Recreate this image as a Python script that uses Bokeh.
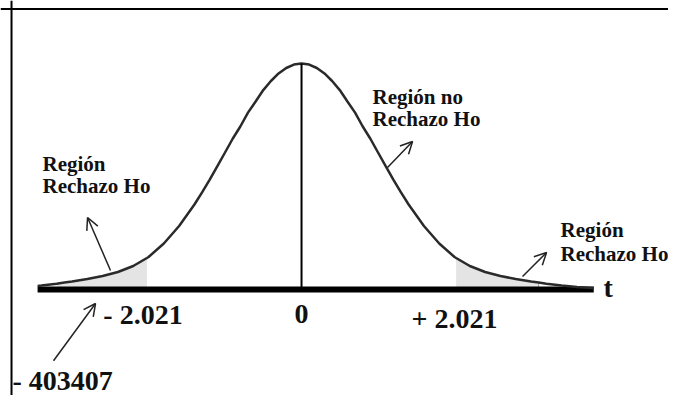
from bokeh.plotting import figure
from bokeh.models import Range1d, ColumnDataSource, Arrow, OpenHead, Span
from bokeh.core.properties import value
from bokeh.embed import file_html
from bokeh.resources import INLINE
import numpy as np

# ---- data (t value, curve height in density units) ----
t_vals = [-3.45, -3.4, -3.2, -3.1, -3.0, -2.8, -2.6, -2.4, -2.2, -2.021, -2.0, -1.8, -1.6, -1.4,
          -1.3, -1.2, -1.1, -1.0, -0.9, -0.8, -0.7, -0.6, -0.5, -0.4, -0.3, -0.2, -0.1, 0.0,
          0.1, 0.2, 0.3, 0.4, 0.5, 0.6, 0.7, 0.8, 0.9, 1.0, 1.1, 1.2, 1.3, 1.4, 1.6,
          1.8, 2.0, 2.021, 2.2, 2.4, 2.6, 2.8, 3.0, 3.1, 3.2, 3.4, 3.6, 3.8, 3.82]
density = [0.0063, 0.0070, 0.0102, 0.0121, 0.0140, 0.0184, 0.0237, 0.0307, 0.0412, 0.0553,
           0.0570, 0.0807, 0.1114, 0.1491, 0.1703, 0.1929, 0.2165, 0.2403, 0.2644, 0.2859,
           0.3103, 0.3298, 0.3498, 0.3657, 0.3789, 0.3885, 0.3945, 0.3964,
           0.3945, 0.3885, 0.3789, 0.3657, 0.3498, 0.3298, 0.3103, 0.2859, 0.2644, 0.2403,
           0.2165, 0.1929, 0.1703, 0.1491, 0.1114, 0.0807,
           0.0570, 0.0553, 0.0412, 0.0307, 0.0237, 0.0184, 0.0140, 0.0121, 0.0102, 0.0070,
           0.0046, 0.0028, 0.0026]
t_critical = 2.021
left_shade_start = -3.2
right_shade_end = 3.1
axis_start = -3.45
axis_end = 3.82

tick_labels = ["- 2.021", "0", "+ 2.021"]
tick_x = [-2.072, 0.0, 2.0]
tick_y = [-0.0439, -0.0421, -0.0509]

region_labels = ["Región", "Rechazo Ho", "Región no", "Rechazo Ho", "Región", "Rechazo Ho"]
region_x = [-3.386, -3.386, 0.928, 0.928, 3.386, 3.386]
region_y = [0.2210, 0.1807, 0.3385, 0.2999, 0.1035, 0.0631]

arrow_x0 = [-2.497, -3.242, 1.124, 2.889]
arrow_y0 = [0.0333, -0.1250, 0.2140, 0.0228]
arrow_x1 = [-2.797, -2.693, 1.451, 3.203]
arrow_y1 = [0.1263, -0.0246, 0.2596, 0.0649]

t = np.array(t_vals)
d = np.array(density)

p = figure(width=668, height=395, output_backend="svg", toolbar_location=None,
           x_range=Range1d(-3.935, 4.797), y_range=Range1d(-0.1859, 0.5069),
           x_axis_type=None, y_axis_type=None, min_border=0,
           background_fill_color="white", border_fill_color="white")
p.grid.visible = False
p.outline_line_color = None

# frame lines of the picture
p.add_layout(Span(location=-3.791, dimension="height", line_color="black", line_width=2))
p.add_layout(Span(location=0.4920, dimension="width", line_color="black", line_width=2))

# shaded rejection regions
ml = (t >= left_shade_start) & (t <= -t_critical)
mr = (t >= t_critical) & (t <= right_shade_end)
p.varea(x=t[ml], y1=0, y2=d[ml], fill_color="#e4e4e4")
p.varea(x=t[mr], y1=0, y2=d[mr], fill_color="#e4e4e4")
p.segment(x0=[right_shade_end], y0=[0], x1=[right_shade_end], y1=[d[t_vals.index(right_shade_end)]],
          line_color="#999999", line_width=1)

# axis
p.segment(x0=[axis_start], y0=[0], x1=[axis_end], y1=[0], line_color="black", line_width=6)

# curve
p.line(t, d, line_color="#2a2a2a", line_width=2.5)

# centre line
p.segment(x0=[0], y0=[0], x1=[0], y1=[max(density)], line_color="black", line_width=2)

# arrows
asrc = ColumnDataSource(dict(x0=arrow_x0, y0=arrow_y0, x1=arrow_x1, y1=arrow_y1))
p.add_layout(Arrow(source=asrc, x_start="x0", y_start="y0", x_end="x1", y_end="y1",
                   line_color="#222222", line_width=1.5,
                   end=OpenHead(size=12, line_color="#222222", line_width=1.5)))

serif = value("Liberation Serif")

p.text(x=region_x, y=region_y, text=region_labels, text_font=serif, text_font_style="bold",
       text_font_size="21px", text_color="#111111", text_align="left", text_baseline="middle")

p.text(x=tick_x, y=tick_y, text=tick_labels, text_font=serif, text_font_style="bold",
       text_font_size="28px", text_color="#111111", text_align="center", text_baseline="middle")

p.text(x=[3.948], y=[0.0035], text=["t"], text_font=serif, text_font_style="bold",
       text_font_size="28px", text_color="#111111", text_align="left", text_baseline="middle")

p.text(x=[-3.778], y=[-0.1596], text=["- 403407"], text_font=serif, text_font_style="bold",
       text_font_size="28px", text_color="#111111", text_align="left", text_baseline="middle")

open("out.html", "w").write(file_html(p, INLINE))
